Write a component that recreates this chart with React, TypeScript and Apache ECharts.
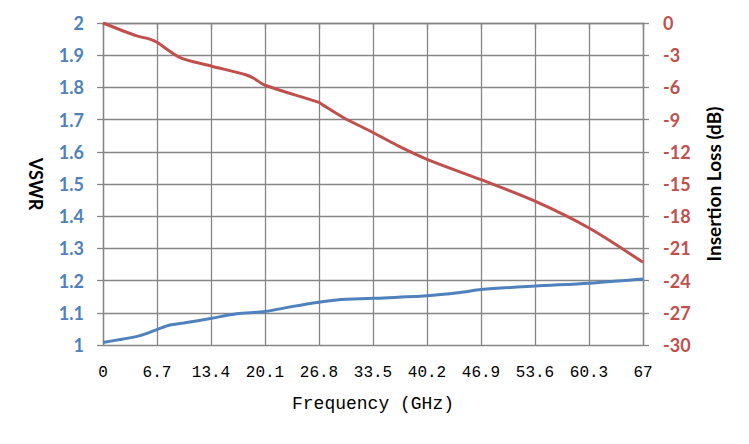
import React, { useEffect, useRef } from "react";
import * as echarts from "echarts";

const freqVSWR = [0, 4.6, 6.7, 8.3, 10, 13.5, 16.6, 20.1, 23.6, 26.8, 29, 33.5, 40.2, 44.3, 46.9, 53.6, 60.3, 67];
const vswrValues = [1.008, 1.029, 1.048, 1.062, 1.068, 1.083, 1.097, 1.104, 1.12, 1.133, 1.14, 1.145, 1.153, 1.163, 1.172, 1.183, 1.192, 1.205];

const freqIL = [0, 4.2, 5.8, 6.7, 9.5, 13.4, 17.8, 18.7, 20.1, 26.8, 27.3, 29.8, 33.5, 36.5, 40.2, 46.9, 53.6, 60.3, 67];
const ilValues = [0, -1.2, -1.5, -1.8, -3.2, -4.0, -4.85, -5.15, -5.8, -7.4, -7.65, -8.8, -10.2, -11.4, -12.7, -14.6, -16.6, -19.1, -22.3];

const xTicks = { min: 0, max: 67, interval: 6.7 };
const vswrAxis = { min: 1, max: 2, interval: 0.1 };
const ilAxis = { min: -30, max: 0, interval: 3 };

export default function App() {
  const ref = useRef<HTMLDivElement>(null);
  useEffect(() => {
    if (!ref.current) return;
    const chart = echarts.init(ref.current, null, { renderer: "svg" });
    const gridColor = "#868686";
    chart.setOption({
      animation: false,
      backgroundColor: "#ffffff",
      grid: { left: 103, right: 106, top: 23, bottom: 99, containLabel: false },
      xAxis: {
        type: "value",
        min: xTicks.min,
        max: xTicks.max,
        interval: xTicks.interval,
        name: "Frequency (GHz)",
        nameLocation: "middle",
        nameGap: 50,
        nameTextStyle: { fontFamily: "Liberation Mono", fontSize: 18, color: "#000" },
        axisLine: { show: true, lineStyle: { color: gridColor, width: 1.3 } },
        axisTick: { show: true, length: 6, inside: false, lineStyle: { color: gridColor, width: 1.3 } },
        axisLabel: {
          margin: 20,
          fontFamily: "Liberation Mono",
          fontSize: 16,
          color: "#000",
          formatter: (v: number) => String(Math.round(v * 10) / 10),
        },
        splitLine: { show: true, lineStyle: { color: gridColor, width: 1.3 } },
      },
      yAxis: [
        {
          type: "value",
          position: "left",
          min: vswrAxis.min,
          max: vswrAxis.max,
          interval: vswrAxis.interval,
          name: "VSWR",
          nameLocation: "middle",
          nameRotate: -90,
          nameGap: 58,
          nameTextStyle: { fontFamily: "Lato", fontWeight: "bold", fontSize: 18, color: "#000" },
          axisLine: { show: true, lineStyle: { color: gridColor, width: 1.3 } },
          axisTick: { show: true, length: 6, inside: false, lineStyle: { color: gridColor, width: 1.3 } },
          axisLabel: {
            margin: 19,
            fontFamily: "Lato",
            fontWeight: "bold",
            fontSize: 18,
            color: "#4f81bd",
            formatter: (v: number) => String(Math.round(v * 10) / 10),
          },
          splitLine: { show: true, lineStyle: { color: gridColor, width: 1.3 } },
        },
        {
          type: "value",
          position: "right",
          min: ilAxis.min,
          max: ilAxis.max,
          interval: ilAxis.interval,
          name: "Insertion Loss (dB)",
          nameLocation: "middle",
          nameRotate: 90,
          nameGap: 61,
          nameTextStyle: { fontFamily: "Lato", fontWeight: "bold", fontSize: 19, color: "#000" },
          axisLine: { show: true, lineStyle: { color: gridColor, width: 1.3 } },
          axisTick: { show: true, length: 6, inside: false, lineStyle: { color: gridColor, width: 1.3 } },
          axisLabel: {
            margin: 20,
            fontFamily: "Lato",
            fontWeight: "bold",
            fontSize: 18,
            color: "#c0504d",
            formatter: (v: number) => String(Math.round(v)),
          },
          splitLine: { show: false },
        },
      ],
      series: [
        {
          type: "line",
          yAxisIndex: 0,
          data: freqVSWR.map((f, i) => [f, vswrValues[i]]),
          smooth: 0.3,
          showSymbol: false,
          lineStyle: { color: "#4f81bd", width: 3 },
          itemStyle: { color: "#4f81bd" },
        },
        {
          type: "line",
          yAxisIndex: 1,
          data: freqIL.map((f, i) => [f, ilValues[i]]),
          smooth: 0.3,
          showSymbol: false,
          lineStyle: { color: "#c0504d", width: 3 },
          itemStyle: { color: "#c0504d" },
        },
      ],
    });
    return () => chart.dispose();
  }, []);
  return <div ref={ref} style={{ position: "absolute", left: 0, top: 0, width: 749, height: 444 }} />;
}
